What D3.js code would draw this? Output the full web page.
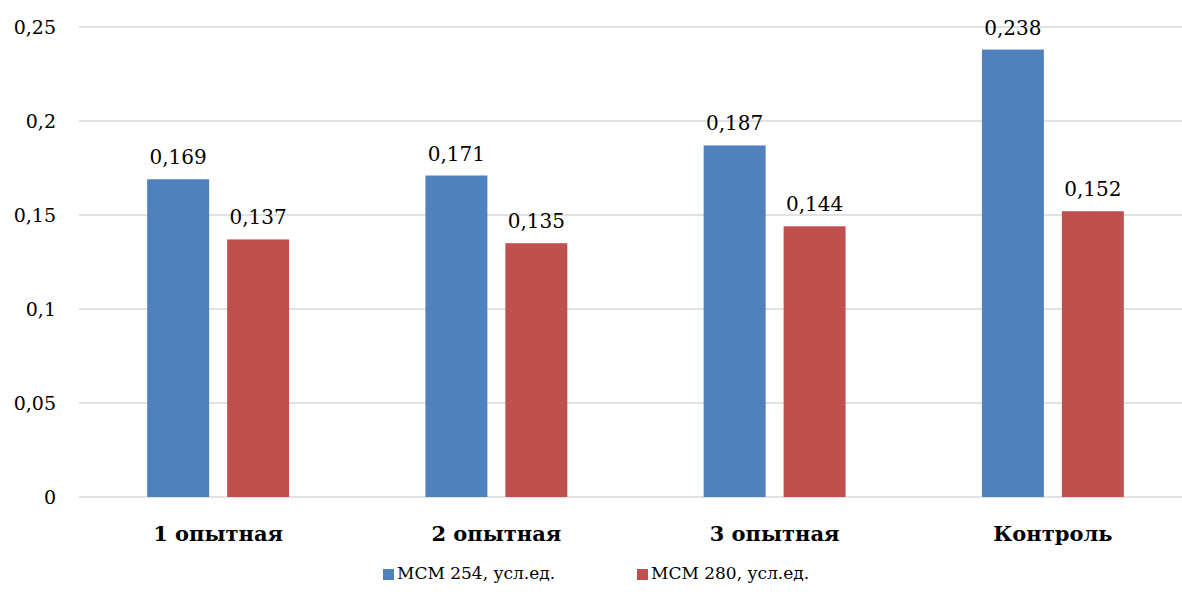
<!DOCTYPE html>
<html>
<head>
<meta charset="utf-8">
<script src="https://cdn.jsdelivr.net/npm/d3@7"></script>
<style>
body { margin: 0; background: #fff; }
</style>
</head>
<body>
<script>
var categories = ["1 опытная", "2 опытная", "3 опытная", "Контроль"];
var seriesNames = ["МСМ 254, усл.ед.", "МСМ 280, усл.ед."];
var mcm254 = [0.169, 0.171, 0.187, 0.238];
var mcm280 = [0.137, 0.135, 0.144, 0.152];
var yTicks = [0, 0.05, 0.1, 0.15, 0.2, 0.25];
var colors = ["#4F81BD", "#C0504D"];

var width = 1182, height = 598;
var svg = d3.select("body").append("svg")
    .attr("width", width)
    .attr("height", height)
    .attr("font-family", "DejaVu Serif");

var plotLeft = 79, plotRight = 1192, plotTop = 27, plotBottom = 497;

var y = d3.scaleLinear().domain([0, 0.25]).range([plotBottom, plotTop]);
var x0 = d3.scaleBand().domain(categories).range([plotLeft, plotRight])
    .paddingInner(0.49).paddingOuter(0.245);
var x1 = d3.scaleBand().domain([0, 1]).range([0, x0.bandwidth()])
    .paddingInner(0.225);

function fmt(v) { return String(v).replace(".", ","); }

// gridlines
svg.append("g").selectAll("line")
    .data(yTicks)
    .enter().append("line")
        .attr("x1", plotLeft)
        .attr("x2", width)
        .attr("y1", function(d) { return y(d); })
        .attr("y2", function(d) { return y(d); })
        .attr("stroke", "#D9D9D9")
        .attr("stroke-width", 1.5)

// y tick labels
svg.append("g").selectAll("text")
    .data(yTicks)
    .enter().append("text")
        .attr("x", 56)
        .attr("y", function(d) { return y(d); })
        .attr("dy", "0.35em")
        .attr("text-anchor", "end")
        .attr("font-size", "19px")
        .text(fmt)

var series = [mcm254, mcm280];

// bars + labels
series.forEach(function(vals, s) {
    var g = svg.append("g");
    g.selectAll("rect")
        .data(vals)
        .enter().append("rect")
            .attr("x", function(d, i) { return x0(categories[i]) + x1(s); })
            .attr("y", function(d) { return y(d); })
            .attr("width", x1.bandwidth())
            .attr("height", function(d) { return plotBottom - y(d); })
            .attr("fill", colors[s])
    g.selectAll("text")
        .data(vals)
        .enter().append("text")
            .attr("x", function(d, i) { return x0(categories[i]) + x1(s) + x1.bandwidth() / 2; })
            .attr("y", function(d) { return y(d) - 15; })
            .attr("text-anchor", "middle")
            .attr("font-size", "20px")
            .text(fmt)
});

// category labels
svg.append("g").selectAll("text")
    .data(categories)
    .enter().append("text")
        .attr("x", function(d) { return x0(d) + x0.bandwidth() / 2; })
        .attr("y", 541)
        .attr("text-anchor", "middle")
        .attr("font-size", "21px")
        .attr("font-weight", "bold")
        .text(function(d) { return d; })

// legend
var legendX = [383, 637];
var legend = svg.append("g").selectAll("g")
    .data(seriesNames)
    .enter().append("g")
        .attr("transform", function(d, i) { return "translate(" + legendX[i] + ",579)"; })
legend.append("rect")
    .attr("x", 0).attr("y", -10)
    .attr("width", 11).attr("height", 11)
    .attr("fill", function(d, i) { return colors[i]; })
legend.append("text")
    .attr("x", 14)
    .attr("font-size", "17px")
    .text(function(d) { return d; })
</script>
</body>
</html>
